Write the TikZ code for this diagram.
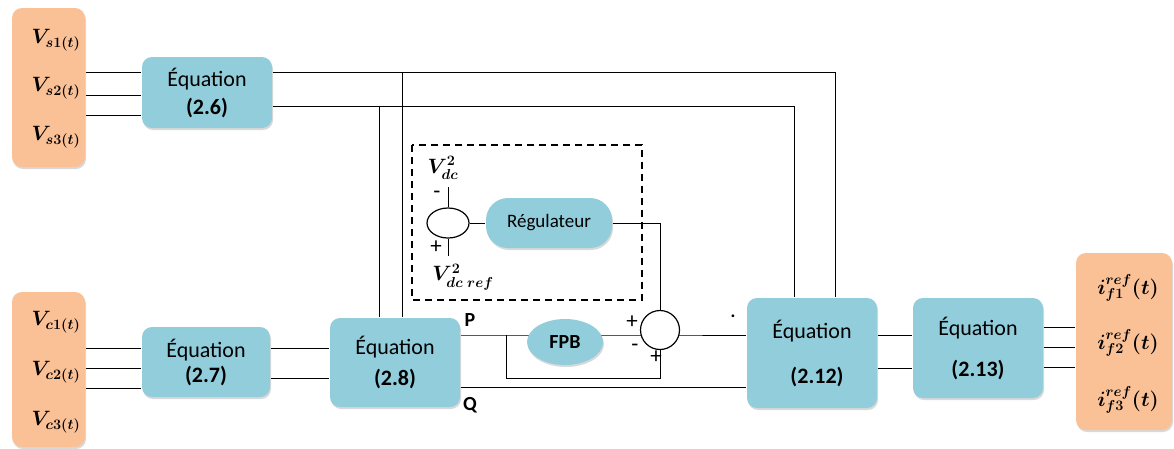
\documentclass[tikz,border=0pt]{standalone}
\usepackage{fontspec}
\setmainfont{Carlito}
\usetikzlibrary{shapes.geometric,shadows,backgrounds}
\definecolor{eqblue}{RGB}{146,205,220}
\definecolor{sigorange}{RGB}{250,192,150}
\begin{document}
\begin{tikzpicture}[x=1pt,y=-1pt,line width=1.2pt,
  eqbox/.style={fill=eqblue,rounded corners=10pt,align=center,inner sep=0pt,
    font=\fontsize{22}{26}\selectfont,
    drop shadow={opacity=0.3,shadow xshift=1pt,shadow yshift=-2pt}},
  sigbox/.style={fill=sigorange,rounded corners=10pt,inner sep=0pt,
    drop shadow={opacity=0.3,shadow xshift=1pt,shadow yshift=-2pt}},
  sumnode/.style={draw,fill=white,ellipse,inner sep=0pt},
  sig/.style={font=\fontsize{20}{24}\selectfont\boldmath},
  sgn/.style={font=\fontsize{23}{24}\selectfont,inner sep=0.5pt}]
\useasboundingbox (0,0) rectangle (1174,448);
\node[sigbox,minimum width=73pt,minimum height=159pt] (vs) at (48.5,87.5) {};
\node[sigbox,minimum width=73pt,minimum height=155pt] (vc) at (48.5,369.5) {};
\node[sigbox,minimum width=96pt,minimum height=177pt] (ifr) at (1124,341.5) {};
\node[sig] (vs1) at (56,40) {$V_{s1(t)}$};
\node[sig] (vs2) at (56,88) {$V_{s2(t)}$};
\node[sig] (vs3) at (56,137) {$V_{s3(t)}$};
\node[sig] (vc1) at (56,322) {$V_{c1(t)}$};
\node[sig] (vc2) at (56,372) {$V_{c2(t)}$};
\node[sig] (vc3) at (56,422) {$V_{c3(t)}$};
\node[sig] (if1) at (1128,288) {$i_{f1}^{ref}(t)$};
\node[sig] (if2) at (1128,343) {$i_{f2}^{ref}(t)$};
\node[sig] (if3) at (1128,400) {$i_{f3}^{ref}(t)$};
\node[eqbox,minimum width=130pt,minimum height=71pt] (eq6) at (207,92.5) {Équation\\[2pt]\textbf{(2.6)}};
\node[eqbox,minimum width=128pt,minimum height=70pt] (eq7) at (206,362) {Équation\\[-1pt]\textbf{(2.7)}};
\node[eqbox,minimum width=130pt,minimum height=89pt] (eq8) at (395,362.5) {Équation\\[5pt]\textbf{(2.8)}};
\node[eqbox,minimum width=130pt,minimum height=110pt] (eq12) at (812,353) {Équation\\[19pt]\hspace*{10pt}\textbf{(2.12)}};
\node[eqbox,minimum width=130pt,minimum height=100pt] (eq13) at (978,348) {Équation\\[15pt]\textbf{(2.13)}};
\node[eqbox,ellipse,minimum width=76pt,minimum height=46pt,font=\fontsize{20}{24}\selectfont\bfseries] (fpb) at (565,342) {FPB};
\node[eqbox,rounded corners=22pt,minimum width=126pt,minimum height=50pt,font=\fontsize{19}{22}\selectfont] (reg) at (549,223) {Régulateur};
\node[sumnode,minimum width=42pt,minimum height=30pt] (sum1) at (448,223) {};
\node[sumnode,circle,minimum size=39pt] (sum2) at (660,330) {};
\draw[line width=1.3pt,dash pattern=on 7pt off 5pt] (412,145) rectangle (642,300);
\node[sig] (vdc) at (443,168) {$V_{dc}^2$};
\node[sig] (vdcref) at (463,277) {$V_{dc\;ref}^2$};
\node[sgn] (m1) at (437,195) {-};
\node[sgn] (p1) at (436,247) {+};
\node[sgn] (p2) at (632,322) {+};
\node[sgn] (m2) at (635,348) {-};
\node[sgn] (p3) at (656,357) {+};
\node[font=\fontsize{20}{24}\selectfont\bfseries] (plab) at (470,320) {P};
\node[font=\fontsize{20}{24}\selectfont\bfseries] (qlab) at (470,405) {Q};
\node[sgn] (dot) at (733,316) {.};
\begin{scope}[on background layer,black!85]
\foreach \y in {72,95,115} \draw (vs.east |- 0,\y) -- (eq6.west |- 0,\y);
\foreach \y in {348,368,388} \draw (vc.east |- 0,\y) -- (eq7.west |- 0,\y);
\foreach \y in {348,378} \draw (eq7.east |- 0,\y) -- (eq8.west |- 0,\y);
\draw (eq6.east |- 0,72) -| (eq12.north -| 835,0);
\draw (eq6.east |- 0,106) -| (eq12.north -| 794,0);
\draw (eq8.north -| 402,0) -- (402,72);
\draw (eq8.north -| 379,0) -- (379,106);
\coordinate (pl) at (506,335);
\draw (eq8.east |- pl) -- (sum2 |- pl) -- (eq12.west |- pl);
\draw (pl) -- ++(0,43) -| (sum2.south);
\draw (eq8.east |- 0,387) -- (eq12.west |- 0,387);
\draw (sum1) -- (reg);
\draw (reg.east) -| (sum2.north);
\draw (sum1.north) -- ++(0,-20);
\draw (sum1.south) -- ++(0,17);
\foreach \y in {335,368} \draw (eq12.east |- 0,\y) -- (eq13.west |- 0,\y);
\foreach \y in {327,347,367} \draw (eq13.east |- 0,\y) -- (ifr.west |- 0,\y);
\end{scope}
\end{tikzpicture}
\end{document}
